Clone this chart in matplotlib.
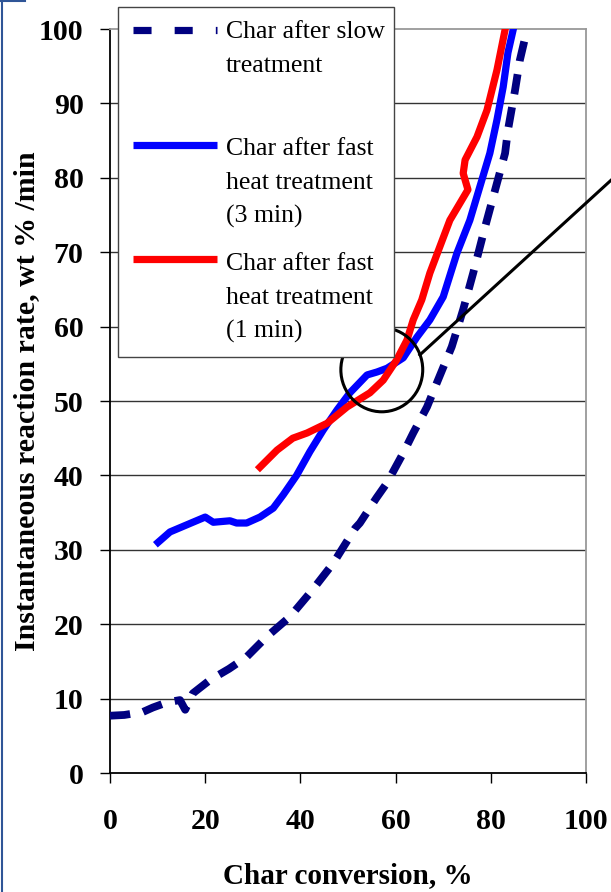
import matplotlib
matplotlib.use('Agg')
import matplotlib.pyplot as plt
from matplotlib.patches import Ellipse, Rectangle
from matplotlib.lines import Line2D

plt.rcParams['font.family'] = ['Liberation Serif', 'DejaVu Serif']

# === DATA ===
slow_x = [0, 3, 6.9, 9, 12, 14.7, 15.8, 17.4, 21, 25, 28.7, 32.9, 37.8, 42.4, 46.9,
          51.5, 52.5, 56, 58.2, 61.6, 63.7, 66.6, 68.9, 71.8, 74.2, 76.3, 78.8,
          81.3, 83, 83.6, 85.1, 86.1, 87.6]
slow_y = [7.7, 7.8, 8.2, 8.8, 9.5, 9.8, 8.5, 10.7, 12.5, 14.0, 15.6, 18.3, 21.0, 24.5, 28.2,
          32.9, 33.6, 37.0, 39.0, 43.0, 45.7, 49.2, 52.8, 57.3, 62.3, 67.2, 73.4,
          79.3, 83.3, 86.4, 91.8, 95.8, 99.9]

fast3_x = [10.1, 12.6, 17.4, 20, 21.7, 25.2, 26.6, 28.7, 31.5, 34.3, 36.4, 39.2, 42,
           44.8, 47.7, 50.4, 54, 56.1, 58.2, 61.6, 64.5, 67.2, 70, 72.9, 75.6,
           77.7, 79.8, 81.3, 82.6, 83.6, 84.7]
fast3_y = [31.0, 32.4, 33.7, 34.4, 33.7, 33.9, 33.6, 33.6, 34.4, 35.6, 37.4, 40.0, 43.2,
           46.1, 48.8, 51.1, 53.5, 53.9, 54.4, 55.8, 58.6, 60.9, 64.0, 69.9, 74.3,
           78.8, 83.3, 87.8, 92.2, 96.8, 99.9]

fast1_x = [31.5, 35.1, 38.4, 41.4, 45.6, 49.8, 54.6, 57.4, 60.2, 62.4, 63.7, 65.5,
           67.2, 71.4, 75.2, 74.2, 74.6, 77.1, 79.2, 81.3, 83.0]
fast1_y = [41.1, 43.4, 45.0, 45.7, 47.0, 49.2, 51.1, 52.8, 55.5, 58.2, 60.9, 63.6,
           67.2, 74.3, 78.4, 80.6, 82.4, 85.5, 89.1, 94.5, 99.9]

labels = [['Char after slow', 'treatment'],
          ['Char after fast', 'heat treatment', '(3 min)'],
          ['Char after fast', 'heat treatment', '(1 min)']]

NAVY, BLUE, RED = '#000080', '#0000FF', '#FF0000'
W, H = 611, 892

fig = plt.figure(figsize=(W / 100, H / 100), dpi=100)
fig.patch.set_facecolor('white')
ax = fig.add_axes([110 / W, 1 - 773 / H, 476 / W, 744 / H])

ax.plot(slow_x, slow_y, color=NAVY, lw=5.6, dashes=(2.6, 1.7), solid_capstyle='butt', zorder=3)
ax.plot(fast3_x, fast3_y, color=BLUE, lw=5.2, zorder=4)
ax.plot(fast1_x, fast1_y, color=RED, lw=5.2, zorder=5)

ax.set_xlim(0, 100)
ax.set_ylim(0, 100)
ax.set_xticks(range(0, 101, 20))
ax.set_yticks(range(0, 101, 10))
ax.tick_params(direction='out', length=7, width=1, labelsize=21.5, pad=12)
for t in ax.get_xticklabels() + ax.get_yticklabels():
    t.set_fontweight('bold')
ax.tick_params(axis='x', pad=18)
for y in range(10, 100, 10):
    ax.axhline(y, color='#333333', lw=1, zorder=1)
ax.spines['left'].set_color('black')
ax.spines['bottom'].set_color('black')
ax.spines['top'].set_color('#999999')
ax.spines['right'].set_color('#999999')
for s in ax.spines.values():
    s.set_linewidth(1.3)

ax.set_xlabel('Char conversion, %', fontsize=21, fontweight='bold', labelpad=20)
ax.set_ylabel('Instantaneous reaction rate, wt % /min', fontsize=21.5, fontweight='bold')
ax.yaxis.set_label_coords(-0.148, 0.5)

# highlight circle and pointer line
ax.add_patch(Ellipse((57.1, 54.2), 17.2, 11.3, fill=False, ec='black', lw=2.2, zorder=6))
ax.plot([65.1, 105.3], [56.2, 79.7], color='black', lw=2.2, clip_on=False, zorder=6)

# manual legend box (handles aligned with first line of each label)
def fx(px):
    return px / W

def fy(py):
    return 1 - py / H

fig.add_artist(Rectangle((fx(118), fy(357)), fx(394) - fx(118), fy(7) - fy(357),
                         transform=fig.transFigure, fc='white', ec='#444444', lw=1, zorder=10))
handles = [(NAVY, (2.5, 3.2), 30), (BLUE, None, 144.5), (RED, None, 259)]
for color, dash, py in handles:
    ln = Line2D([fx(133), fx(217)], [fy(py), fy(py)], transform=fig.transFigure,
                color=color, lw=5.2, solid_capstyle='butt', zorder=11)
    if dash:
        ln.set_dashes(dash)
    fig.add_artist(ln)
baselines = [[38, 72], [155, 189, 223], [270, 304, 338]]
for lab, bl in zip(labels, baselines):
    for text, py in zip(lab, bl):
        fig.text(fx(226), fy(py), text, fontsize=18.5, va='baseline', ha='left', zorder=12)

# slide border remnants on the left edge
fig.add_artist(Line2D([fx(1.5), fx(1.5)], [0, 1], transform=fig.transFigure, color='#2F5597', lw=1.5))
fig.add_artist(Line2D([0, fx(25)], [fy(1), fy(1)], transform=fig.transFigure, color='#2F5597', lw=1.5))

fig.savefig('out.png', dpi=100, facecolor='white')
